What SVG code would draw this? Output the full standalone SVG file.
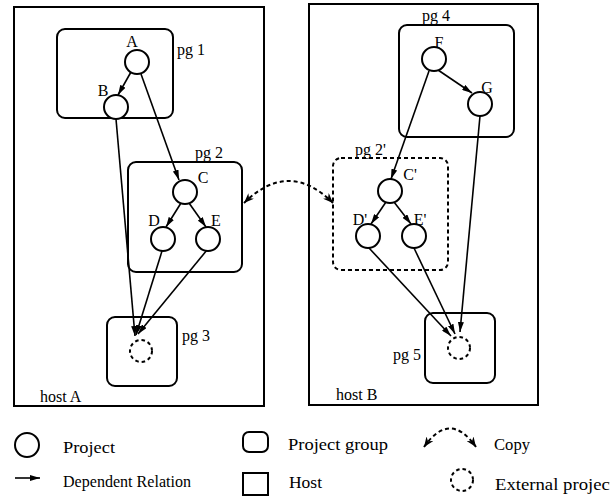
<svg xmlns="http://www.w3.org/2000/svg" width="610" height="502" viewBox="0 0 610 502">
<style>
  .host { fill: none; stroke: #000; stroke-width: 2; }
  .pg { fill: none; stroke: #000; stroke-width: 2; }
  .pgd { fill: none; stroke: #000; stroke-width: 2; stroke-dasharray: 4 3; }
  .proj { fill: #fff; stroke: #000; stroke-width: 2; }
  .ext { fill: none; stroke: #000; stroke-width: 2; stroke-dasharray: 3.5 3; }
  .dep { fill: none; stroke: #000; stroke-width: 1.6; marker-end: url(#ah); }
  .copy { fill: none; stroke: #000; stroke-width: 2; stroke-dasharray: 4 3; marker-start: url(#ch); marker-end: url(#ch); }
  text { font-family: "Liberation Serif", "Times New Roman", serif; font-size: 16px; fill: #000; }
  .lbl { text-anchor: middle; }
  .leg { font-size: 17px; }
</style>
<defs>
  <marker id="ah" viewBox="0 0 10 6" refX="10" refY="3" markerWidth="10" markerHeight="6" markerUnits="userSpaceOnUse" orient="auto">
    <path d="M0,0 L10,3 L0,6 z" fill="#000"/>
  </marker>
  <marker id="ch" viewBox="0 0 10 8" refX="10" refY="4" markerWidth="10" markerHeight="8" markerUnits="userSpaceOnUse" orient="auto-start-reverse">
    <path d="M0,0 L10,4 L0,8 L3,4 z" fill="#000"/>
  </marker>
</defs>

<!-- hosts -->
<g id="hostA">
  <rect class="host" x="14" y="7" width="250" height="399"/>
  <text x="40" y="402">host A</text>
</g>
<g id="hostB">
  <rect class="host" x="309" y="4" width="229" height="401"/>
  <text x="336" y="400">host B</text>
</g>

<!-- project groups -->
<g id="pg1">
  <rect class="pg" x="57" y="29" width="116" height="89" rx="8"/>
  <text x="177" y="55">pg 1</text>
</g>
<g id="pg2">
  <rect class="pg" x="128" y="162" width="114" height="110" rx="8"/>
  <text x="195" y="158">pg 2</text>
</g>
<g id="pg3">
  <rect class="pg" x="107" y="317" width="70" height="69" rx="8"/>
  <text x="182" y="341">pg 3</text>
</g>
<g id="pg4">
  <rect class="pg" x="399" y="25" width="115" height="112" rx="8"/>
  <text x="422" y="21">pg 4</text>
</g>
<g id="pg2p">
  <rect class="pgd" x="333" y="158" width="115" height="112" rx="8"/>
  <text x="355" y="155">pg 2'</text>
</g>
<g id="pg5">
  <rect class="pg" x="425" y="313" width="70" height="70" rx="8"/>
  <text x="393" y="360">pg 5</text>
</g>

<!-- connectors -->
<g id="connectors">
  <line class="dep" x1="131" y1="72" x2="118" y2="95"/>
  <line class="dep" x1="141" y1="74" x2="179" y2="180"/>
  <line class="dep" x1="181" y1="203" x2="166" y2="227"/>
  <line class="dep" x1="189" y1="203" x2="206" y2="227"/>
  <line class="dep" x1="116" y1="119" x2="135" y2="336"/>
  <line class="dep" x1="162" y1="251" x2="136" y2="335"/>
  <line class="dep" x1="207" y1="250" x2="138" y2="334"/>
  <line class="dep" x1="438" y1="70" x2="472" y2="93"/>
  <line class="dep" x1="429" y1="71" x2="391" y2="179"/>
  <line class="dep" x1="386" y1="202" x2="371" y2="224"/>
  <line class="dep" x1="394" y1="202" x2="411" y2="224"/>
  <line class="dep" x1="369" y1="248" x2="451" y2="336"/>
  <line class="dep" x1="414" y1="248" x2="455" y2="334"/>
  <line class="dep" x1="480" y1="116" x2="460" y2="332"/>
  <path class="copy" d="M244,203 Q289,159 333,203"/>
</g>

<!-- projects -->
<g id="A"><circle class="proj" cx="137" cy="62" r="12"/><text class="lbl" x="132" y="47">A</text></g>
<g id="B"><circle class="proj" cx="116" cy="107" r="12"/><text class="lbl" x="103" y="96">B</text></g>
<g id="C"><circle class="proj" cx="185" cy="192" r="12"/><text class="lbl" x="203" y="183">C</text></g>
<g id="D"><circle class="proj" cx="163" cy="239" r="12"/><text class="lbl" x="154" y="226">D</text></g>
<g id="E"><circle class="proj" cx="208" cy="239" r="12"/><text class="lbl" x="216" y="226">E</text></g>
<g id="ext3"><circle class="ext" cx="141" cy="351" r="11"/></g>
<g id="F"><circle class="proj" cx="434" cy="59" r="12"/><text class="lbl" x="439" y="48">F</text></g>
<g id="G"><circle class="proj" cx="480" cy="104" r="12"/><text class="lbl" x="487" y="93">G</text></g>
<g id="Cp"><circle class="proj" cx="390" cy="191" r="12"/><text class="lbl" x="410" y="180">C'</text></g>
<g id="Dp"><circle class="proj" cx="368" cy="236" r="12"/><text class="lbl" x="360" y="225">D'</text></g>
<g id="Ep"><circle class="proj" cx="414" cy="236" r="12"/><text class="lbl" x="420" y="225">E'</text></g>
<g id="ext5"><circle class="ext" cx="459" cy="348" r="11"/></g>

<!-- legend -->
<g id="legend">
  <circle class="proj" cx="27" cy="445" r="12" stroke-width="2.5"/>
  <text class="leg" x="63" y="453" textLength="52" lengthAdjust="spacingAndGlyphs">Project</text>
  <line class="dep" x1="15" y1="478" x2="40" y2="478" stroke-width="2"/>
  <text class="leg" x="63" y="487" textLength="128" lengthAdjust="spacingAndGlyphs">Dependent Relation</text>
  <rect class="pg" x="243" y="432" width="25" height="20" rx="6"/>
  <text class="leg" x="288" y="450" textLength="100" lengthAdjust="spacingAndGlyphs">Project group</text>
  <rect class="pg" x="243" y="473" width="25" height="22"/>
  <text class="leg" x="289" y="488" textLength="33" lengthAdjust="spacingAndGlyphs">Host</text>
  <path class="copy" d="M424,447 Q450,410 476,447" stroke-width="2"/>
  <text class="leg" x="494" y="450" textLength="36" lengthAdjust="spacingAndGlyphs">Copy</text>
  <circle class="ext" cx="462" cy="480" r="11"/>
  <text class="leg" x="495" y="490" textLength="120" lengthAdjust="spacingAndGlyphs">External project</text>
</g>
</svg>
